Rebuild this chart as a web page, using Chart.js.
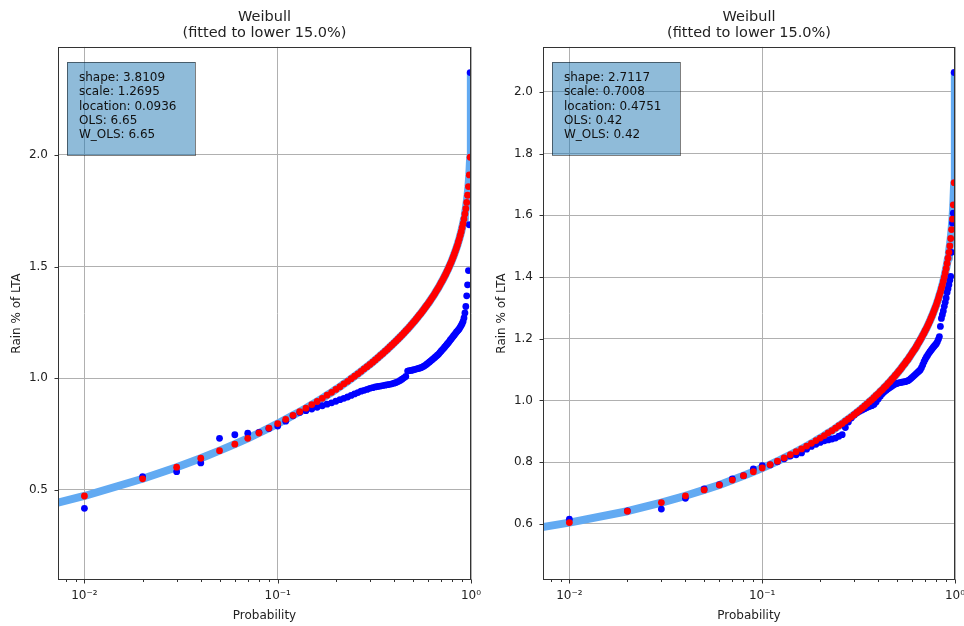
<!DOCTYPE html>
<html>
<head>
<meta charset="utf-8">
<script src="https://cdn.jsdelivr.net/npm/chart.js@4"></script>
<style>
  body { margin: 0; background: #fff; }
  .wrap { position: absolute; top: 0; height: 626px; }
  #leftWrap { left: 0; width: 482px; }
  #rightWrap { left: 485px; width: 479px; }
</style>
</head>
<body>
<div class="wrap" id="leftWrap"><canvas id="leftChart" width="482" height="626"></canvas></div>
<div class="wrap" id="rightWrap"><canvas id="rightChart" width="479" height="626"></canvas></div>
<script>
// plotting positions shared by the data and the fitted points
const probs = [
  0.01, 0.02, 0.03, 0.04, 0.05, 0.06, 0.07, 0.08, 0.09, 0.10,
  0.11, 0.12, 0.13, 0.14, 0.15, 0.16, 0.17, 0.18, 0.19, 0.20,
  0.21, 0.22, 0.23, 0.24, 0.25, 0.26, 0.27, 0.28, 0.29, 0.30,
  0.31, 0.32, 0.33, 0.34, 0.35, 0.36, 0.37, 0.38, 0.39, 0.40,
  0.41, 0.42, 0.43, 0.44, 0.45, 0.46, 0.47, 0.48, 0.49, 0.50,
  0.51, 0.52, 0.53, 0.54, 0.55, 0.56, 0.57, 0.58, 0.59, 0.60,
  0.61, 0.62, 0.63, 0.64, 0.65, 0.66, 0.67, 0.68, 0.69, 0.70,
  0.71, 0.72, 0.73, 0.74, 0.75, 0.76, 0.77, 0.78, 0.79, 0.80,
  0.81, 0.82, 0.83, 0.84, 0.85, 0.86, 0.87, 0.88, 0.89, 0.90,
  0.91, 0.92, 0.93, 0.94, 0.95, 0.96, 0.97, 0.98, 0.99
];

// extra points so the fitted curve runs past both ends
const curveHeadP = [0.005, 0.007];
const curveTailP = [0.995, 0.999, 0.9995, 0.9999];

// left panel
const fittedLeft = [
  0.473, 0.550, 0.602, 0.642, 0.676, 0.705, 0.731, 0.755, 0.777, 0.797,
  0.816, 0.834, 0.850, 0.866, 0.882, 0.896, 0.910, 0.924, 0.937, 0.950,
  0.962, 0.975, 0.986, 0.998, 1.009, 1.020, 1.031, 1.042, 1.052, 1.062,
  1.072, 1.082, 1.092, 1.102, 1.111, 1.121, 1.130, 1.140, 1.149, 1.158,
  1.167, 1.176, 1.185, 1.194, 1.203, 1.212, 1.220, 1.229, 1.238, 1.247,
  1.255, 1.264, 1.273, 1.282, 1.290, 1.299, 1.308, 1.317, 1.326, 1.334,
  1.343, 1.352, 1.361, 1.370, 1.379, 1.389, 1.398, 1.407, 1.417, 1.427,
  1.436, 1.446, 1.456, 1.466, 1.477, 1.487, 1.498, 1.509, 1.520, 1.532,
  1.544, 1.556, 1.569, 1.582, 1.595, 1.610, 1.624, 1.640, 1.656, 1.674,
  1.692, 1.713, 1.735, 1.759, 1.787, 1.819, 1.858, 1.910, 1.989
];
const observedLeft = [
  0.418, 0.560, 0.582, 0.621, 0.731, 0.747, 0.754, 0.758, 0.775, 0.786,
  0.808, 0.832, 0.847, 0.855, 0.862, 0.870, 0.877, 0.884, 0.890, 0.897,
  0.904, 0.910, 0.916, 0.923, 0.930, 0.936, 0.942, 0.946, 0.950, 0.955,
  0.958, 0.961, 0.963, 0.965, 0.967, 0.969, 0.971, 0.973, 0.975, 0.978,
  0.981, 0.985, 0.990, 0.996, 1.002, 1.008, 1.032, 1.034, 1.035, 1.037,
  1.039, 1.041, 1.043, 1.045, 1.047, 1.050, 1.054, 1.058, 1.063, 1.068,
  1.073, 1.078, 1.083, 1.088, 1.093, 1.098, 1.103, 1.108, 1.115, 1.121,
  1.127, 1.133, 1.139, 1.145, 1.151, 1.157, 1.163, 1.170, 1.176, 1.182,
  1.188, 1.194, 1.200, 1.206, 1.211, 1.216, 1.222, 1.229, 1.236, 1.244,
  1.254, 1.270, 1.292, 1.321, 1.369, 1.418, 1.482, 1.687, 2.368
];
const curveHeadLeft = [0.410, 0.439];
const curveTailLeft = [2.060, 2.202, 2.255, 2.367];
const yTicksLeft = [0.5, 1.0, 1.5, 2.0];
const statsLeft = ['shape: 3.8109', 'scale: 1.2695', 'location: 0.0936', 'OLS: 6.65', 'W_OLS: 6.65'];

// right panel
const fittedRight = [
  0.604, 0.641, 0.669, 0.691, 0.710, 0.726, 0.742, 0.756, 0.769, 0.781,
  0.792, 0.803, 0.814, 0.824, 0.834, 0.843, 0.852, 0.861, 0.870, 0.878,
  0.886, 0.895, 0.902, 0.910, 0.918, 0.925, 0.933, 0.940, 0.947, 0.954,
  0.961, 0.968, 0.975, 0.982, 0.989, 0.996, 1.002, 1.009, 1.016, 1.022,
  1.029, 1.035, 1.042, 1.048, 1.055, 1.061, 1.068, 1.074, 1.081, 1.087,
  1.094, 1.100, 1.107, 1.114, 1.120, 1.127, 1.133, 1.140, 1.147, 1.154,
  1.161, 1.167, 1.174, 1.182, 1.189, 1.196, 1.203, 1.211, 1.218, 1.226,
  1.233, 1.241, 1.249, 1.257, 1.266, 1.274, 1.283, 1.292, 1.301, 1.310,
  1.320, 1.330, 1.341, 1.351, 1.363, 1.374, 1.387, 1.400, 1.414, 1.428,
  1.444, 1.461, 1.480, 1.501, 1.525, 1.554, 1.588, 1.634, 1.706
];
const observedRight = [
  0.615, 0.642, 0.648, 0.683, 0.713, 0.727, 0.746, 0.756, 0.778, 0.789,
  0.791, 0.801, 0.811, 0.820, 0.824, 0.830, 0.842, 0.851, 0.858, 0.864,
  0.869, 0.872, 0.875, 0.878, 0.884, 0.889, 0.912, 0.930, 0.943, 0.953,
  0.960, 0.965, 0.969, 0.973, 0.977, 0.980, 0.983, 0.987, 0.995, 1.005,
  1.014, 1.022, 1.028, 1.033, 1.038, 1.042, 1.046, 1.050, 1.053, 1.055,
  1.057, 1.058, 1.059, 1.060, 1.061, 1.062, 1.064, 1.067, 1.071, 1.075,
  1.079, 1.083, 1.087, 1.091, 1.095, 1.099, 1.106, 1.115, 1.125, 1.133,
  1.140, 1.146, 1.152, 1.157, 1.162, 1.167, 1.172, 1.176, 1.180, 1.184,
  1.190, 1.198, 1.207, 1.240, 1.266, 1.278, 1.290, 1.305, 1.318, 1.332,
  1.350, 1.362, 1.375, 1.390, 1.402, 1.480, 1.575, 1.607, 2.063
];
const curveHeadRight = [0.575, 0.588];
const curveTailRight = [1.771, 1.904, 1.956, 2.064];
const yTicksRight = [0.6, 0.8, 1.0, 1.2, 1.4, 1.6, 1.8, 2.0];
const statsRight = ['shape: 2.7117', 'scale: 0.7008', 'location: 0.4751', 'OLS: 0.42', 'W_OLS: 0.42'];

const xTicks = [0.01, 0.1, 1];
const xTickLabels = ['10⁻²', '10⁻¹', '10⁰'];

Chart.defaults.font.family = '"DejaVu Sans", sans-serif';
Chart.defaults.font.size = 12;
Chart.defaults.color = '#222';

// semi-transparent parameter box in the upper left of the axes
const statsBox = {
  id: 'statsBox',
  afterDatasetsDraw(chart, args, opts) {
    const { ctx, chartArea: a } = chart;
    const bx = Math.round(a.left) + 9, by = Math.round(a.top) + 15;
    ctx.save();
    ctx.fillStyle = 'rgba(31,119,180,0.5)';
    ctx.fillRect(bx, by, 128, 93);
    ctx.strokeStyle = 'rgba(0,0,0,0.5)';
    ctx.lineWidth = 1;
    ctx.strokeRect(bx + 0.5, by + 0.5, 128, 93);
    ctx.fillStyle = '#111';
    ctx.font = '12px "DejaVu Sans"';
    ctx.textBaseline = 'middle';
    opts.lines.forEach((s, i) => ctx.fillText(s, bx + 12, by + 16 + i * 14.2));
    ctx.restore();
  }
};

// axes frame plus outward tick marks (minor ones on the log axis)
const frameAndTicks = {
  id: 'frameAndTicks',
  afterDraw(chart) {
    const { ctx, chartArea: a, scales: { x, y } } = chart;
    const L = Math.round(a.left) + 0.5, R = Math.round(a.right) - 0.5;
    const T = Math.round(a.top) + 0.5, B = Math.round(a.bottom) - 0.5;
    ctx.save();
    ctx.strokeStyle = '#333';
    ctx.lineWidth = 1;
    ctx.beginPath();
    y.ticks.forEach(t => {
      const py = Math.round(y.getPixelForValue(t.value)) + 0.5;
      ctx.moveTo(L - 4, py); ctx.lineTo(L, py);
    });
    x.ticks.forEach(t => {
      const px = Math.round(x.getPixelForValue(t.value)) + 0.5;
      ctx.moveTo(px, B); ctx.lineTo(px, B + 4);
    });
    [0.001, 0.01, 0.1].forEach(dec => {
      for (let m = 2; m < 10; m++) {
        const v = m * dec;
        if (v < x.min || v > x.max) continue;
        const px = Math.round(x.getPixelForValue(v)) + 0.5;
        ctx.moveTo(px, B); ctx.lineTo(px, B + 2.5);
      }
    });
    ctx.stroke();
    ctx.strokeRect(L, T, R - L, B - T);
    ctx.restore();
  }
};

const toPoints = (ps, vs) => ps.map((p, i) => ({ x: p, y: vs[i] }));

const buildChart = (id, fitted, observed, head, tail, yMin, yMax, yTicks, stats, padRight) => new Chart(document.getElementById(id), {
  type: 'scatter',
  data: {
    datasets: [
      { data: toPoints(probs, fitted), backgroundColor: '#ff0000', pointRadius: 3.4, borderWidth: 0 },
      { data: toPoints(probs, observed), backgroundColor: '#0000ff', pointRadius: 3.4, borderWidth: 0 },
      {
        data: toPoints([...curveHeadP, ...probs, ...curveTailP], [...head, ...fitted, ...tail]),
        showLine: true, pointRadius: 0, borderColor: '#62aaf2', borderWidth: 8, borderJoinStyle: 'round'
      }
    ]
  },
  options: {
    responsive: false,
    animation: false,
    events: [],
    layout: { padding: { top: 0, right: padRight, bottom: 0, left: 0 } },
    plugins: {
      legend: { display: false },
      tooltip: { enabled: false },
      title: {
        display: true,
        text: ['Weibull', '(fitted to lower 15.0%)'],
        fullSize: false,
        color: '#222',
        font: { size: 14.5, weight: 'normal', lineHeight: 1.1 },
        padding: { top: 9, bottom: 6 }
      },
      statsBox: { lines: stats }
    },
    scales: {
      x: {
        type: 'logarithmic',
        min: 0.0073,
        max: 1,
        afterBuildTicks: s => { s.ticks = xTicks.map(v => ({ value: v })); },
        afterFit: s => { s.height = 46; s.paddingLeft = 0; s.paddingRight = 0; },
        grid: { color: '#b0b0b0', drawTicks: false },
        border: { display: false },
        ticks: { autoSkip: false, maxRotation: 0, padding: 9, callback: (v, i) => xTickLabels[i] },
        title: { display: true, text: 'Probability', padding: { top: 0, bottom: 3 } }
      },
      y: {
        min: yMin,
        max: yMax,
        afterBuildTicks: s => { s.ticks = yTicks.map(v => ({ value: v })); },
        afterFit: s => { s.width = 58; },
        grid: { color: '#b0b0b0', drawTicks: false },
        border: { display: false },
        ticks: { padding: 10, callback: v => v.toFixed(1) },
        title: { display: true, text: 'Rain % of LTA', padding: { top: 10, bottom: 0 } }
      }
    }
  },
  plugins: [statsBox, frameAndTicks]
});

buildChart('leftChart', fittedLeft, observedLeft, curveHeadLeft, curveTailLeft, 0.097, 2.483, yTicksLeft, statsLeft, 11);
buildChart('rightChart', fittedRight, observedRight, curveHeadRight, curveTailRight, 0.418, 2.146, yTicksRight, statsRight, 9);
</script>
</body>
</html>
